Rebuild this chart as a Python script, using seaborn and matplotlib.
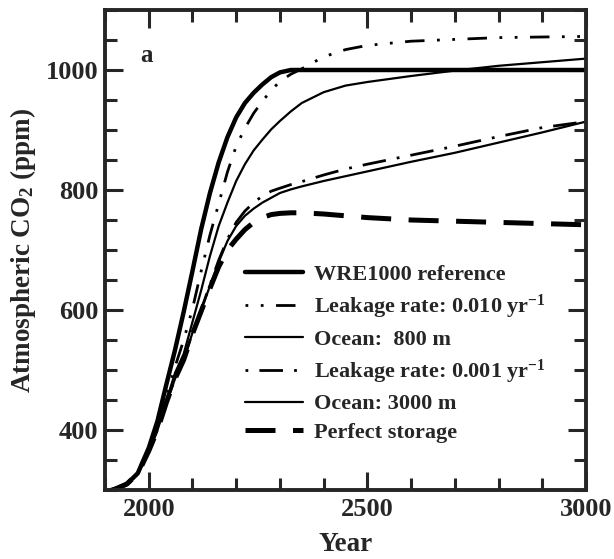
import numpy as np
import pandas as pd
import matplotlib.pyplot as plt
import seaborn as sns
from matplotlib.ticker import MultipleLocator

sns.set_style("ticks")
plt.rcParams['font.family'] = ['Liberation Serif', 'DejaVu Serif']
plt.rcParams['font.weight'] = 'bold'
plt.rcParams['mathtext.fontset'] = 'custom'
plt.rcParams['mathtext.rm'] = 'Liberation Serif:bold'
plt.rcParams['mathtext.bf'] = 'Liberation Serif:bold'
plt.rcParams['mathtext.it'] = 'Liberation Serif:bold'

# --- Data ---
years = [1900, 1925, 1950, 1975, 2000, 2020, 2040, 2060, 2080, 2100, 2120, 2140,
         2160, 2180, 2200, 2220, 2240, 2260, 2280, 2300, 2325, 2350, 2400, 2450,
         2500, 2600, 2700, 2800, 2900, 3000]

wre1000 = [296, 302, 310, 328, 370, 415, 475, 533, 597, 665, 735, 795,
           846, 888, 921, 945, 962, 976, 988, 996, 1000, 1000, 1000, 1000,
           1000, 1000, 1000, 1000, 1000, 1000]
leak_010 = [296, 302, 310, 327, 366, 405, 455, 505, 550, 602, 665, 725,
            777, 830, 873, 903, 928, 948, 966, 981, 993, 1002, 1022, 1034,
            1041, 1048, 1051, 1054, 1055, 1056]
ocean_800 = [296, 302, 310, 327, 365, 402, 448, 495, 527, 580, 633, 690,
             740, 779, 815, 843, 866, 884, 901, 915, 931, 945, 963, 974,
             980, 990, 999, 1007, 1013, 1019]
leak_001 = [296, 302, 310, 327, 365, 400, 445, 485, 517, 562, 601, 642,
            683, 718, 746, 765, 779, 790, 798, 803, 809, 814, 825, 835,
            843, 858, 873, 889, 904, 914]
ocean_3000 = [296, 302, 310, 327, 365, 400, 445, 485, 517, 562, 600, 640,
              680, 715, 740, 757, 769, 779, 787, 795, 801, 806, 815, 823,
              831, 847, 862, 879, 896, 914]
perfect = [296, 302, 310, 327, 365, 400, 445, 485, 517, 560, 598, 636,
           672, 700, 718, 734, 746, 754, 759, 761, 762, 762, 760, 757,
           754, 750, 748, 746, 744, 742]

labels = ["WRE1000 reference",
          "Leakage rate: 0.010 yr$^{-1}$",
          "Ocean:  800 m",
          "Leakage rate: 0.001 yr$^{-1}$",
          "Ocean: 3000 m",
          "Perfect storage"]

series = [wre1000, leak_010, ocean_800, leak_001, ocean_3000, perfect]
widths = [3.2, 2.0, 1.6, 2.0, 1.6, 3.6]
styles = ["-", (11.5, (7, 4.5, 1, 4.5, 1, 4.5)), "-", (12.5, (8.5, 4, 1, 4)), "-", (0, (6, 3.5))]

df = pd.concat(
    [pd.DataFrame({"Year": years, "CO2": s, "case": lab}) for s, lab in zip(series, labels)],
    ignore_index=True,
)

fig = plt.figure(figsize=(6.14, 5.59), dpi=100)
ax = fig.add_axes([105 / 614, 1 - 490 / 559, 481 / 614, 480 / 559])

for lab, lw, ls in zip(labels, widths, styles):
    sub = df[df["case"] == lab]
    sns.lineplot(data=sub, x="Year", y="CO2", ax=ax, color="black", lw=lw,
                 dashes=False, legend=False)
    line = ax.get_lines()[-1]
    line.set_linestyle(ls)
    line.set_label(lab)

ax.set_xlim(1900, 3000)
ax.set_ylim(300, 1100)
ax.xaxis.set_minor_locator(MultipleLocator(100))
ax.yaxis.set_minor_locator(MultipleLocator(50))
ax.set_xticks([2000, 2500, 3000])
ax.set_yticks([400, 600, 800, 1000])

ax.tick_params(which="both", direction="in", top=True, right=True, width=2.2)
ax.tick_params(which="major", length=13, labelsize=19, pad=6)
ax.tick_params(axis="y", which="major", pad=5)
ax.tick_params(which="minor", length=8.5)
for sp in ax.spines.values():
    sp.set_linewidth(2.8)

ax.set_xlabel("Year", fontsize=19.5, fontweight="bold", labelpad=8)
ax.set_ylabel("Atmospheric CO$_2$ (ppm)", fontsize=19.5, fontweight="bold", labelpad=5)

ax.text(1994, 1025, "a", fontsize=18, fontweight="bold", ha="center", va="center")

ax.legend(loc="upper left", bbox_to_anchor=(0.291, 0.47), frameon=False,
          handlelength=2.6, handletextpad=0.5, labelspacing=0.36,
          borderpad=0, borderaxespad=0, prop={"weight": "bold", "size": 16})

fig.savefig("out.png", dpi=100)
